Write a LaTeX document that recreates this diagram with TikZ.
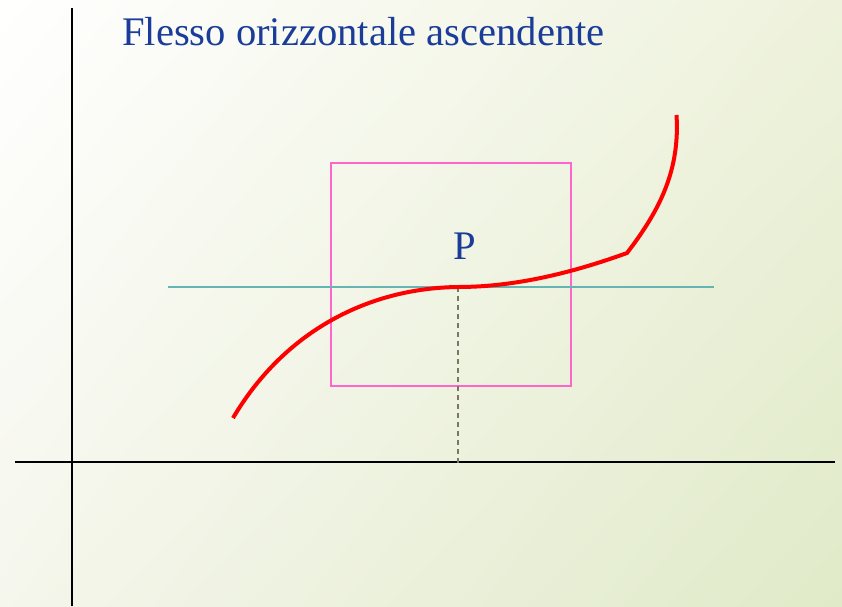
\documentclass[tikz,border=0pt]{standalone}
\usepackage{fontspec}
\setmainfont{Liberation Serif}
\usetikzlibrary{shadings}
\definecolor{titleblue}{HTML}{1B3D99}
\definecolor{boxpink}{HTML}{FF66CC}
\definecolor{tangent}{HTML}{66B5B5}
\definecolor{dashcol}{HTML}{7D7563}
\definecolor{bgtr}{HTML}{EEF2DC}
\definecolor{bgbl}{HTML}{F5F6EC}
\definecolor{bgbr}{HTML}{E0EAC8}
\tikzset{
  axisline/.style={line width=2pt, black},
  curveline/.style={line width=4pt, red},
  boxline/.style={line width=2pt, boxpink},
  tangentline/.style={line width=1.5pt, tangent},
  dropline/.style={line width=1.5pt, dashcol, dash pattern=on 5pt off 4pt},
  lbl/.style={inner sep=0pt, font=\fontsize{40.6}{44}\selectfont, text=titleblue}
}
\begin{document}
\begin{tikzpicture}[x=1pt, y=-1pt]
\shade[upper left=white, upper right=bgtr, lower left=bgbl, lower right=bgbr] (0,0) rectangle (842,606);
\useasboundingbox (0,0) rectangle (842,606);
% axes
\coordinate (ytop) at (72,8);
\coordinate (ybot) at (72,606);
\coordinate (xl) at (15,462);
\coordinate (xr) at (835,462);
\draw[axisline] (ytop) -- (ybot);
\draw[axisline] (xl) -- (xr);
% title
\node[lbl, anchor=base west] (title) at (122,45) {Flesso orizzontale ascendente};
% box
\node[boxline, draw, minimum width=240pt, minimum height=223pt, inner sep=0pt, anchor=north west] (box) at (330,162) {};
% tangent
\coordinate (tl) at (168,287);
\coordinate (tr) at (714,287);
\draw[tangentline] (tl) -- (tr);
% point
\coordinate (P) at (458,287);
\coordinate (Pfoot) at (458,465);
\draw[dropline] (P) -- (Pfoot);
\node[lbl, anchor=base] (plabel) at (465,259) {P};
% curve
\coordinate (c0) at (233,418);
\coordinate (k) at (627,253);
\coordinate (c3) at (676.5,115);
\draw[curveline] (c0) .. controls (285,330) and (370,288) .. (P)
  .. controls (520,287) and (580,270) .. (k)
  .. controls (660,210) and (680,170) .. (c3);
\end{tikzpicture}
\end{document}
